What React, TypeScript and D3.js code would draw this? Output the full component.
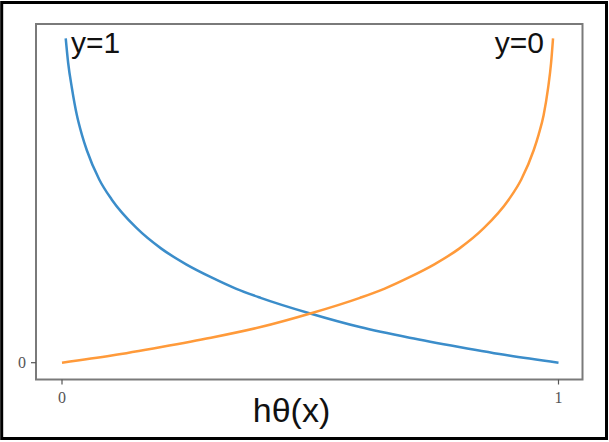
import React from "react";
import * as d3 from "d3";

// Hypothesis value hθ(x) and the logistic cost along each curve
const costY1H = [0.0075, 0.0125, 0.02, 0.03, 0.04, 0.05, 0.075, 0.1, 0.15, 0.2, 0.25, 0.3, 0.35, 0.4, 0.5, 0.6, 0.7, 0.8, 0.9, 1.0];
const costY1V = [4.55, 4.2, 3.85, 3.47, 3.2, 2.98, 2.57, 2.29, 1.89, 1.6, 1.38, 1.2, 1.04, 0.91, 0.69, 0.5, 0.35, 0.22, 0.1, 0.0];

const costY0H = [0.0, 0.1, 0.2, 0.3, 0.4, 0.5, 0.6, 0.65, 0.7, 0.75, 0.8, 0.85, 0.9, 0.925, 0.95, 0.96, 0.97, 0.979, 0.985, 0.989];
const costY0V = [0.0, 0.1, 0.22, 0.35, 0.5, 0.69, 0.91, 1.04, 1.2, 1.38, 1.6, 1.89, 2.29, 2.57, 2.98, 3.2, 3.47, 3.85, 4.2, 4.55];

const xTicks = [0, 1];
const yTicks = [0];
const curveLabels = ["y=1", "y=0"];
const xTitle = "hθ(x)";

const W = 609;
const H = 442;
const frame = { left: 36, right: 582.5, top: 24, bottom: 379.5 };

export default function App() {
  const x = d3.scaleLinear().domain([0, 1]).range([62, 558.5]);
  const y = d3.scaleLinear().domain([0, 5]).range([362.7, 6.2]);

  const line = d3
    .line<[number, number]>()
    .x((d) => x(d[0]))
    .y((d) => y(d[1]))
    .curve(d3.curveMonotoneX);

  const blue = line(costY1H.map((h, i) => [h, costY1V[i]] as [number, number])) || "";
  const orange = line(costY0H.map((h, i) => [h, costY0V[i]] as [number, number])) || "";

  return (
    <svg
      width={W}
      height={H}
      style={{ position: "absolute", left: 0, top: 0, background: "#fff" }}
    >
      <rect x={1.7} y={2.5} width={604.8} height={436} fill="#fff" stroke="#000" strokeWidth={3} />
      <rect
        x={frame.left}
        y={frame.top}
        width={frame.right - frame.left}
        height={frame.bottom - frame.top}
        fill="#fff"
        stroke="#7a7a7a"
        strokeWidth={2}
      />
      {yTicks.map((t) => (
        <g key={"y" + t}>
          <line x1={frame.left - 5} x2={frame.left} y1={y(t)} y2={y(t)} stroke="#555" strokeWidth={1.2} />
          <text
            x={frame.left - 10}
            y={y(t)}
            textAnchor="end"
            dominantBaseline="central"
            fontFamily="Liberation Serif, serif"
            fontSize={16}
            fill="#555"
          >
            {t}
          </text>
        </g>
      ))}
      {xTicks.map((t) => (
        <g key={"x" + t}>
          <line x1={x(t)} x2={x(t)} y1={frame.bottom} y2={frame.bottom + 5} stroke="#555" strokeWidth={1.2} />
          <text
            x={x(t)}
            y={402.5}
            textAnchor="middle"
            fontFamily="Liberation Serif, serif"
            fontSize={16}
            fill="#555"
          >
            {t}
          </text>
        </g>
      ))}
      <path d={blue} fill="none" stroke="#3b8dca" strokeWidth={2.5} />
      <path d={orange} fill="none" stroke="#ff9a3a" strokeWidth={2.5} />
      <text x={71} y={53} fontFamily="Liberation Sans, Arial, sans-serif" fontSize={30} fill="#111">
        {curveLabels[0]}
      </text>
      <text x={544} y={53} textAnchor="end" fontFamily="Liberation Sans, Arial, sans-serif" fontSize={30} fill="#111">
        {curveLabels[1]}
      </text>
      <text x={291.5} y={422} textAnchor="middle" fontFamily="Liberation Sans, Arial, sans-serif" fontSize={34} fill="#111">
        {xTitle}
      </text>
    </svg>
  );
}
